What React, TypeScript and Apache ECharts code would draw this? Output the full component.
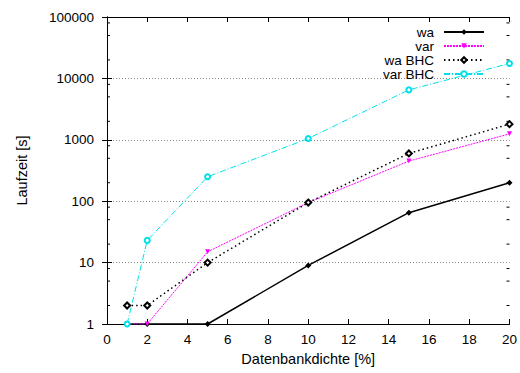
import React, { useEffect, useRef } from "react";
import * as echarts from "echarts";

// Datenbankdichte in Prozent
const densities = [1, 2, 5, 10, 15, 20];

// Laufzeiten in Sekunden
const waValues = [1, 1, 1, 9, 65, 200];
const varValues = [1, 1, 15, 95, 450, 1250];
const waBhcValues = [2, 2, 10, 95, 600, 1800];
const varBhcValues = [1, 23, 250, 1050, 6500, 17500];

const seriesNames = ["wa", "var", "wa BHC", "var BHC"];

// minor ticks of the logarithmic axis (2, 5, 8 per decade)
const minorTickValues = [
  2, 5, 8, 20, 50, 80, 200, 500, 800, 2000, 5000, 8000, 20000, 50000, 80000,
];

const FONT = "'Liberation Sans', Arial, Helvetica, sans-serif";

function pairs(values: number[]) {
  return densities.map((d, i) => [d, values[i]]);
}

export default function App() {
  const ref = useRef<HTMLDivElement>(null);

  useEffect(() => {
    if (!ref.current) return;
    const chart = echarts.init(ref.current, undefined, { renderer: "svg" });

    const tickLabel = { fontFamily: FONT, fontSize: 13.5, color: "#000" };
    const axisLine = { show: true, lineStyle: { color: "#000", width: 1 } };
    const tick = { show: true, inside: true, length: 5, lineStyle: { color: "#000" } };

    chart.setOption({
      animation: false,
      backgroundColor: "#fff",
      textStyle: { fontFamily: FONT },
      grid: { left: 107, right: 10, top: 17, bottom: 49, containLabel: false },
      legend: {
        data: seriesNames,
        orient: "vertical",
        right: 30,
        top: 20,
        align: "right",
        itemWidth: 40,
        itemHeight: 7,
        itemGap: 0,
        textStyle: {
          fontFamily: FONT,
          fontSize: 13.5,
          color: "#000",
          padding: [0, 5, 0, 0],
        },
        selectedMode: false,
      },
      xAxis: [
        {
          type: "value",
          min: 0,
          max: 20,
          interval: 2,
          position: "bottom",
          name: "Datenbankdichte [%]",
          nameLocation: "middle",
          nameGap: 27,
          nameTextStyle: { fontFamily: FONT, fontSize: 14.5, color: "#000" },
          axisLine,
          axisTick: tick,
          axisLabel: { ...tickLabel, margin: 8 },
          splitLine: { show: false },
        },
        {
          type: "value",
          min: 0,
          max: 20,
          interval: 2,
          position: "top",
          axisLine,
          axisTick: tick,
          axisLabel: { show: false },
          splitLine: { show: false },
        },
      ],
      yAxis: [
        {
          type: "log",
          logBase: 10,
          min: 1,
          max: 100000,
          position: "left",
          name: "Laufzeit [s]",
          nameLocation: "middle",
          nameGap: 78,
          nameTextStyle: { fontFamily: FONT, fontSize: 14.5, color: "#000" },
          axisLine,
          axisTick: tick,
          axisLabel: { ...tickLabel, margin: 13, formatter: (v: number) => String(v) },
          splitLine: {
            show: true,
            lineStyle: { color: "#888", type: [1, 2], width: 1 },
          },
        },
        {
          type: "log",
          logBase: 10,
          min: 1,
          max: 100000,
          position: "right",
          axisLine,
          axisTick: tick,
          axisLabel: { show: false },
          splitLine: { show: false },
        },
      ],
      series: [
        {
          type: "custom",
          name: "minorTicks",
          silent: true,
          xAxisIndex: 0,
          yAxisIndex: 0,
          data: minorTickValues.map((v) => [0, v]),
          renderItem: (params: any, api: any) => {
            const v = api.value(1);
            const l = api.coord([0, v]);
            const r = api.coord([20, v]);
            const style = { stroke: "#000", lineWidth: 1 };
            return {
              type: "group",
              children: [
                { type: "line", shape: { x1: l[0], y1: l[1], x2: l[0] + 3, y2: l[1] }, style },
                { type: "line", shape: { x1: r[0] - 3, y1: r[1], x2: r[0], y2: r[1] }, style },
              ],
            };
          },
        },
        {
          name: "wa",
          type: "line",
          data: pairs(waValues),
          symbol: "diamond",
          symbolSize: 6,
          color: "#000",
          lineStyle: { color: "#000", width: 1.5, type: "solid" },
          itemStyle: { color: "#000" },
        },
        {
          name: "var",
          type: "line",
          data: pairs(varValues),
          symbol: "triangle",
          symbolRotate: 180,
          symbolSize: 5,
          color: "#ff00ff",
          lineStyle: { color: "#ff00ff", width: 1, type: [2, 1] },
          itemStyle: { color: "#ff00ff" },
        },
        {
          name: "wa BHC",
          type: "line",
          data: pairs(waBhcValues),
          symbol: "emptyDiamond",
          symbolSize: 6,
          color: "#000",
          lineStyle: { color: "#000", width: 1.5, type: [1.5, 3] },
          itemStyle: { color: "#000", borderWidth: 1.3 },
        },
        {
          name: "var BHC",
          type: "line",
          data: pairs(varBhcValues),
          symbol: "emptyCircle",
          symbolSize: 5,
          color: "#00e0e8",
          lineStyle: { color: "#00e0e8", width: 1, type: [6, 2, 1, 2] },
          itemStyle: { color: "#00e0e8", borderWidth: 1.2 },
        },
      ],
    });

    return () => chart.dispose();
  }, []);

  return (
    <div
      ref={ref}
      style={{ position: "fixed", left: 0, top: 0, width: 520, height: 373, background: "#fff" }}
    />
  );
}
